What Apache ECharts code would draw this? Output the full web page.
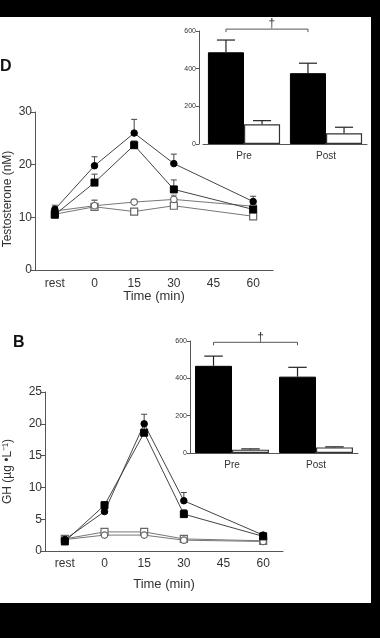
<!DOCTYPE html>
<html>
<head>
<meta charset="utf-8">
<script src="https://cdn.jsdelivr.net/npm/echarts@6/dist/echarts.min.js"></script>
<style>
html,body{margin:0;padding:0;background:#000;}
#c{width:380px;height:638px;}
</style>
</head>
<body>
<div id="c"></div>
<script>
// ---------- data ----------
const timeLabels = ['rest', '0', '15', '30', '45', '60'];

// Testosterone (nM)
const tFilledCircle = [11.5, 19.8, 26.0, 20.2, null, 13.0];
const tFilledCircleErr = [0.8, 1.7, 2.6, 1.8, null, 1.0];
const tFilledSquare = [10.5, 16.6, 23.7, 15.3, null, 11.5];
const tFilledSquareErr = [0.6, 1.6, 0.8, 1.8, null, 0.8];
const tOpenCircle = [11.2, 12.2, 12.9, 13.4, null, 12.1];
const tOpenCircleErr = [0.8, 1.1, 0.5, 0.8, null, 1.0];
const tOpenSquare = [10.6, 12.0, 11.1, 12.2, null, 10.2];
const tOpenSquareErr = [0.5, 1.2, 0.5, 0.7, null, 0.5];

// GH (µg·L-1)
const gFilledCircle = [1.8, 6.2, 20.0, 7.9, null, 2.5];
const gFilledCircleErr = [0.3, 0.5, 1.5, 1.3, null, 0.3];
const gFilledSquare = [1.5, 7.2, 18.6, 5.8, null, 2.3];
const gFilledSquareErr = [0.3, 0.5, 1.2, 0.7, null, 0.3];
const gOpenCircle = [1.8, 2.5, 2.5, 1.7, null, 1.5];
const gOpenCircleErr = [0.2, 0.3, 0.3, 0.2, null, 0.2];
const gOpenSquare = [1.9, 3.0, 3.0, 1.9, null, 1.6];
const gOpenSquareErr = [0.2, 0.3, 0.3, 0.2, null, 0.2];

// Insets (area under curve)
const insetCats = ['Pre', 'Post'];
const tInsetBlack = [487, 376];
const tInsetBlackErr = [65, 53];
const tInsetWhite = [105, 57];
const tInsetWhiteErr = [19, 32];
const gInsetBlack = [467, 409];
const gInsetBlackErr = [52, 50];
const gInsetWhite = [18, 30];
const gInsetWhiteErr = [4, 3];

const tTicks = [0, 10, 20, 30];
const gTicks = [0, 5, 10, 15, 20, 25];
const insetTicks = [0, 200, 400, 600];

// ---------- helpers ----------
const FONT = 'Liberation Sans, Arial, sans-serif';
const AX = '#555';
const TXT = '#333';
const BAR_RATIO = 0.44;

function errData(vals, errs) {
  const out = [];
  vals.forEach((v, i) => { if (v != null) out.push([i, v, errs[i]]); });
  return out;
}
function lineErrSeries(idx, vals, errs, color) {
  return {
    type: 'custom', xAxisIndex: idx, yAxisIndex: idx, z: 1,
    data: errData(vals, errs),
    renderItem: function (params, api) {
      const p0 = api.coord([api.value(0), api.value(1)]);
      const p1 = api.coord([api.value(0), api.value(1) + api.value(2)]);
      const st = { stroke: color, lineWidth: 1 };
      return { type: 'group', children: [
        { type: 'line', shape: { x1: p0[0], y1: p0[1], x2: p1[0], y2: p1[1] }, style: st },
        { type: 'line', shape: { x1: p1[0] - 3, y1: p1[1], x2: p1[0] + 3, y2: p1[1] }, style: st }
      ]};
    }
  };
}
function barErrSeries(idx, vals, errs, k) {
  return {
    type: 'custom', xAxisIndex: idx, yAxisIndex: idx, z: 5,
    data: vals.map((v, i) => [i, v, errs[i]]),
    renderItem: function (params, api) {
      const band = api.size([1, 0])[0];
      const w = band * BAR_RATIO;
      const off = (k - 0.5) * w;
      const p0 = api.coord([api.value(0), api.value(1)]);
      const p1 = api.coord([api.value(0), api.value(1) + api.value(2)]);
      const x = p0[0] + off;
      const st = { stroke: '#222', lineWidth: 1.2 };
      return { type: 'group', children: [
        { type: 'line', shape: { x1: x, y1: p0[1], x2: x, y2: p1[1] }, style: st },
        { type: 'line', shape: { x1: x - w / 4, y1: p1[1], x2: x + w / 4, y2: p1[1] }, style: st }
      ]};
    }
  };
}
function bracketSeries(idx, yVal) {
  return {
    type: 'custom', xAxisIndex: idx, yAxisIndex: idx, z: 5, clip: false,
    data: [[0, 1, yVal]],
    renderItem: function (params, api) {
      const band = api.size([1, 0])[0];
      const w = band * BAR_RATIO;
      const a = api.coord([api.value(0), api.value(2)]);
      const b = api.coord([api.value(1), api.value(2)]);
      const x0 = a[0] - w / 2, x1 = b[0] - w / 2, y = a[1];
      const st = { stroke: '#555', lineWidth: 1 };
      const xm = (x0 + x1) / 2 + 5;
      return { type: 'group', children: [
        { type: 'polyline', shape: { points: [[x0, y + 3], [x0, y], [x1, y], [x1, y + 3]] }, style: Object.assign({ fill: null }, st) },
        { type: 'text', style: { text: '\u2020', x: xm, y: y + 1, align: 'center', verticalAlign: 'bottom', fill: '#333', font: '12px ' + FONT } }
      ]};
    }
  };
}
function lineSeries(idx, vals, symbol, filled) {
  return {
    type: 'line', xAxisIndex: idx, yAxisIndex: idx, z: 3,
    data: vals, connectNulls: true,
    symbol: symbol, symbolSize: symbol === 'circle' ? 6.5 : 7, showSymbol: true,
    lineStyle: { color: filled ? '#444' : '#777', width: 1 },
    itemStyle: filled ? { color: '#000', borderColor: '#000', borderWidth: 1 }
                      : { color: '#fff', borderColor: '#666', borderWidth: 1.2 },
    emphasis: { disabled: true }, animation: false
  };
}
function barSeries(idx, vals, black) {
  return {
    type: 'bar', xAxisIndex: idx, yAxisIndex: idx, data: vals,
    barWidth: (BAR_RATIO * 100) + '%', barGap: '0%',
    itemStyle: black ? { color: '#000', borderColor: '#000', borderWidth: 1 }
                     : { color: '#fff', borderColor: '#333', borderWidth: 1.2 },
    emphasis: { disabled: true }, animation: false
  };
}
function mainX(idx) {
  return {
    gridIndex: idx, type: 'category', data: timeLabels, boundaryGap: true,
    name: 'Time (min)', nameLocation: 'middle', nameMoveOverlap: false,
    nameGap: idx === 0 ? 20 : 27,
    nameTextStyle: { fontFamily: FONT, fontSize: 13, color: TXT },
    axisLine: { lineStyle: { color: AX, width: 1 } },
    axisTick: { alignWithLabel: true, length: 4, lineStyle: { color: AX } },
    axisLabel: { fontFamily: FONT, fontSize: 12, color: TXT, margin: idx === 0 ? 8 : 7 },
    splitLine: { show: false }
  };
}
function mainY(idx, ticks, name, gap, pad) {
  return {
    gridIndex: idx, type: 'value', min: ticks[0], max: ticks[ticks.length - 1],
    interval: ticks[1] - ticks[0],
    name: name, nameLocation: 'middle', nameGap: gap, nameMoveOverlap: false,
    nameTextStyle: { fontFamily: FONT, fontSize: 12, color: TXT, padding: pad },
    axisLine: { show: true, lineStyle: { color: AX, width: 1 } },
    axisTick: { show: true, length: 4, lineStyle: { color: AX } },
    axisLabel: { fontFamily: FONT, fontSize: 12, color: TXT, margin: 3 },
    splitLine: { show: false }
  };
}
function insetX(idx) {
  return {
    gridIndex: idx, type: 'category', data: insetCats, boundaryGap: true,
    axisLine: { lineStyle: { color: AX, width: 1 } },
    axisTick: { show: false },
    axisLabel: { fontFamily: FONT, fontSize: 10, color: TXT, margin: 7 },
    splitLine: { show: false }
  };
}
function insetY(idx, offset) {
  return {
    gridIndex: idx, type: 'value', min: insetTicks[0], max: insetTicks[insetTicks.length - 1],
    interval: insetTicks[1] - insetTicks[0], offset: offset,
    axisLine: { show: true, lineStyle: { color: AX, width: 1 } },
    axisTick: { show: true, length: 3, lineStyle: { color: AX } },
    axisLabel: { fontFamily: FONT, fontSize: 7, color: TXT, margin: 3 },
    splitLine: { show: false }
  };
}

const chart = echarts.init(document.getElementById('c'), null, { renderer: 'canvas' });
chart.setOption({
  backgroundColor: '#000',
  animation: false,
  graphic: [
    { type: 'rect', z: -10, shape: { x: 0, y: 17, width: 371, height: 586 }, style: { fill: '#fff' } },
    { type: 'text', left: 0, top: 59, style: { text: 'D', font: 'bold 16px ' + FONT, fill: '#111' } },
    { type: 'text', left: 13, top: 335, style: { text: 'B', font: 'bold 16px ' + FONT, fill: '#111' } }
  ],
  grid: [
    { left: 35, right: 107, top: 112, bottom: 368, outerBoundsMode: 'none', containLabel: false },
    { left: 203, right: 13, top: 31, bottom: 494, outerBoundsMode: 'none', containLabel: false },
    { left: 45, right: 97, top: 392, bottom: 87, outerBoundsMode: 'none', containLabel: false },
    { left: 190, right: 22, top: 341, bottom: 185, outerBoundsMode: 'none', containLabel: false }
  ],
  xAxis: [mainX(0), insetX(1), mainX(2), insetX(3)],
  yAxis: [
    mainY(0, tTicks, 'Testosterone (nM)', 21, [0, 16, 0, 0]),
    insetY(1, 4),
    mainY(2, gTicks, 'GH (\u00B5g \u2022L\u207B\u00B9)', 31, [0, 0, 0, 0]),
    insetY(3, 0)
  ],
  series: [
    lineErrSeries(0, tFilledCircle, tFilledCircleErr, '#444'),
    lineErrSeries(0, tFilledSquare, tFilledSquareErr, '#444'),
    lineErrSeries(0, tOpenCircle, tOpenCircleErr, '#777'),
    lineErrSeries(0, tOpenSquare, tOpenSquareErr, '#777'),
    lineSeries(0, tOpenSquare, 'rect', false),
    lineSeries(0, tOpenCircle, 'circle', false),
    lineSeries(0, tFilledSquare, 'rect', true),
    lineSeries(0, tFilledCircle, 'circle', true),

    barSeries(1, tInsetBlack, true),
    barSeries(1, tInsetWhite, false),
    barErrSeries(1, tInsetBlack, tInsetBlackErr, 0),
    barErrSeries(1, tInsetWhite, tInsetWhiteErr, 1),
    bracketSeries(1, 610),

    lineErrSeries(2, gFilledCircle, gFilledCircleErr, '#444'),
    lineErrSeries(2, gFilledSquare, gFilledSquareErr, '#444'),
    lineErrSeries(2, gOpenCircle, gOpenCircleErr, '#777'),
    lineErrSeries(2, gOpenSquare, gOpenSquareErr, '#777'),
    lineSeries(2, gOpenSquare, 'rect', false),
    lineSeries(2, gOpenCircle, 'circle', false),
    lineSeries(2, gFilledSquare, 'rect', true),
    lineSeries(2, gFilledCircle, 'circle', true),

    barSeries(3, gInsetBlack, true),
    barSeries(3, gInsetWhite, false),
    barErrSeries(3, gInsetBlack, gInsetBlackErr, 0),
    barErrSeries(3, gInsetWhite, gInsetWhiteErr, 1),
    bracketSeries(3, 593)
  ]
});
</script>
</body>
</html>
